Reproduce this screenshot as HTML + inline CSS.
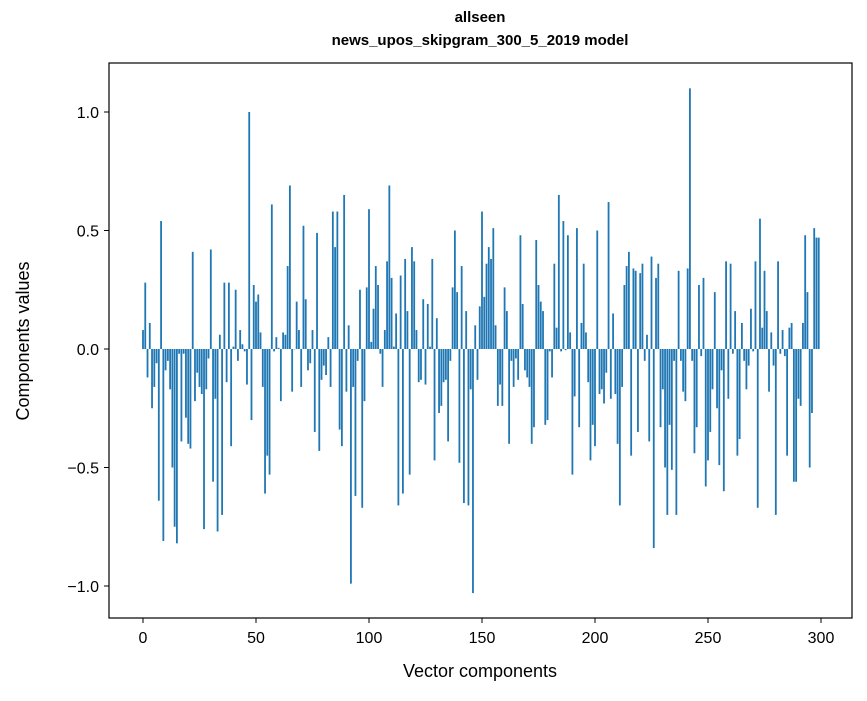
<!DOCTYPE html>
<html><head><meta charset="utf-8"><style>
body{margin:0;background:#fff}
svg text{font-family:"Liberation Sans","DejaVu Sans",sans-serif;fill:#000}
</style></head><body>
<svg id="chart" width="867" height="696" viewBox="0 0 867 696" xmlns="http://www.w3.org/2000/svg">
<rect width="867" height="696" fill="#fff"/>
<text x="480" y="22" text-anchor="middle" font-size="15" font-weight="bold">allseen</text>
<text x="480" y="45" text-anchor="middle" font-size="15" font-weight="bold">news_upos_skipgram_300_5_2019 model</text>
<g id="bars"></g>
<g id="xticks"></g>
<g id="yticks"></g>
<rect x="109" y="63" width="743" height="555" fill="none" stroke="#000" stroke-width="1.2"/>
<text x="480" y="677" text-anchor="middle" font-size="18">Vector components</text>
<text transform="translate(29,341) rotate(-90)" text-anchor="middle" font-size="18">Components values</text>
</svg>
<script>
const values = [0.08,0.28,-0.12,0.11,-0.25,-0.16,-0.06,-0.64,0.54,-0.81,
-0.09,-0.05,-0.17,-0.50,-0.75,-0.82,-0.02,-0.39,-0.02,-0.29,
-0.40,-0.42,0.41,-0.22,-0.10,-0.16,-0.19,-0.76,-0.17,-0.04,
0.42,-0.56,-0.21,-0.77,0.06,-0.70,0.28,-0.14,0.28,-0.41,
0.01,0.25,-0.05,0.08,0.02,-0.01,-0.15,1.00,-0.30,0.27,
0.20,0.23,0.07,-0.16,-0.61,-0.45,-0.53,0.61,-0.01,0.05,
0.005,-0.22,0.07,0.06,0.35,0.69,-0.18,0.0,0.20,0.08,
-0.16,0.52,0.21,-0.09,-0.06,0.08,-0.35,0.49,-0.43,-0.13,
-0.07,-0.11,0.05,-0.16,0.58,0.43,0.58,-0.34,-0.41,0.65,
-0.18,0.10,-0.99,-0.16,-0.62,-0.05,0.25,-0.67,-0.22,0.26,
0.59,0.03,0.17,0.35,0.27,-0.02,-0.16,0.08,0.37,0.69,
0.30,0.01,0.15,-0.66,0.31,-0.61,0.38,0.16,-0.53,0.43,
0.37,0.08,-0.14,-0.13,0.21,-0.15,0.19,0.01,0.38,-0.47,
0.13,-0.27,-0.24,-0.14,-0.13,-0.39,-0.05,0.26,0.50,0.24,
-0.48,0.35,-0.65,0.16,-0.66,-0.17,-1.03,0.10,-0.13,0.18,
0.58,0.22,0.36,0.43,0.38,0.51,0.10,-0.24,-0.15,-0.24,
0.26,0.16,-0.40,-0.05,-0.16,-0.04,-0.13,0.48,0.19,-0.09,
-0.12,-0.16,-0.40,-0.33,0.46,0.27,0.20,0.16,-0.32,-0.30,
-0.01,-0.12,0.36,0.09,0.65,-0.01,0.54,-0.005,0.48,0.07,
-0.53,-0.20,0.51,-0.33,0.11,0.36,0.07,-0.14,-0.47,-0.32,
-0.41,0.50,-0.19,-0.17,-0.23,-0.10,0.62,-0.21,0.15,-0.19,
-0.40,-0.66,-0.16,0.27,0.35,0.41,-0.45,0.34,0.33,-0.35,
0.32,0.36,-0.05,0.06,-0.39,0.39,-0.84,0.30,0.36,-0.33,
-0.17,-0.50,-0.70,-0.32,-0.51,-0.05,-0.70,0.33,-0.05,-0.18,
-0.22,0.34,1.10,-0.05,-0.44,-0.33,0.27,-0.03,0.30,-0.58,
-0.47,-0.35,-0.17,0.24,-0.25,-0.49,-0.09,-0.60,0.37,-0.21,
0.36,-0.02,0.16,-0.45,-0.38,0.11,-0.05,-0.17,-0.07,0.17,
-0.01,0.37,-0.67,0.55,0.09,0.33,0.16,-0.18,0.07,-0.07,
-0.70,0.37,-0.02,0.08,-0.03,-0.45,0.09,0.11,-0.56,-0.56,
-0.21,-0.24,0.11,0.48,0.24,-0.50,-0.27,0.51,0.47,0.47];
const xTickValues = [0,50,100,150,200,250,300];
const xTickLabels = ["0","50","100","150","200","250","300"];
const yTickValues = [-1.0,-0.5,0.0,0.5,1.0];
const yTickLabels = ["\u22121.0","\u22120.5","0.0","0.5","1.0"];

const NS="http://www.w3.org/2000/svg";
function xs(i){return 143+i*2.26;}
function ys(v){return 349-v*237;}
const bars=document.getElementById('bars');
values.forEach(function(v,i){
  const r=document.createElementNS(NS,'rect');
  const y0=ys(0), y1=ys(v);
  r.setAttribute('x',(xs(i)-0.9).toFixed(2));
  r.setAttribute('y',Math.min(y0,y1).toFixed(2));
  r.setAttribute('width','1.8');
  r.setAttribute('height',Math.max(Math.abs(y1-y0),0.3).toFixed(2));
  r.setAttribute('fill','#1f77b4');
  
  
  bars.appendChild(r);
});
const xg=document.getElementById('xticks');
xTickValues.forEach(function(t,k){
  const l=document.createElementNS(NS,'line');
  l.setAttribute('x1',xs(t));l.setAttribute('x2',xs(t));
  l.setAttribute('y1',618);l.setAttribute('y2',623);
  l.setAttribute('stroke','#000');
  
  
  xg.appendChild(l);
  const tx=document.createElementNS(NS,'text');
  tx.setAttribute('x',xs(t));tx.setAttribute('y',643);
  tx.setAttribute('text-anchor','middle');tx.setAttribute('font-size','16');
  tx.textContent=xTickLabels[k];
  
  
  xg.appendChild(tx);
});
const yg=document.getElementById('yticks');
yTickValues.forEach(function(t,k){
  const l=document.createElementNS(NS,'line');
  l.setAttribute('x1',104);l.setAttribute('x2',109);
  l.setAttribute('y1',ys(t));l.setAttribute('y2',ys(t));
  l.setAttribute('stroke','#000');
  
  
  yg.appendChild(l);
  const tx=document.createElementNS(NS,'text');
  tx.setAttribute('x',99);tx.setAttribute('y',ys(t)+6);
  tx.setAttribute('text-anchor','end');tx.setAttribute('font-size','16');
  tx.textContent=yTickLabels[k];
  
  
  yg.appendChild(tx);
});
</script>
</body></html>
